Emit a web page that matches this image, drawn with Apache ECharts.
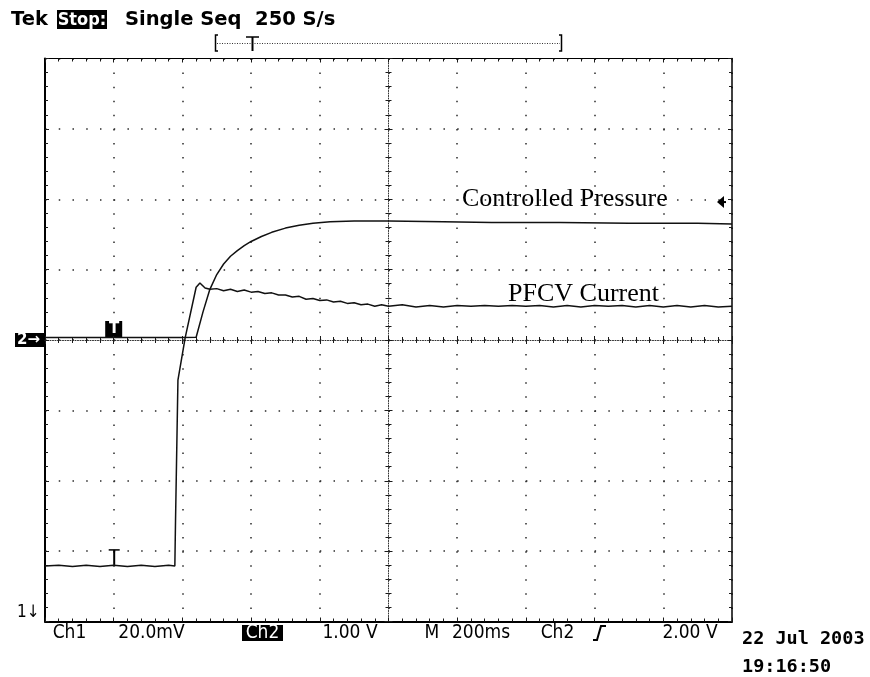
<!DOCTYPE html>
<html>
<head>
<meta charset="utf-8">
<script src="https://cdn.jsdelivr.net/npm/echarts@6/dist/echarts.min.js"></script>
<style>
html, body { margin: 0; padding: 0; background: #fff; }
#main { width: 870px; height: 677px; }
</style>
</head>
<body>
<div id="main"></div>
<script>
// time in ms from left edge of screen (200 ms/div), values in screen divisions
var ch1Time = [0, 40, 80, 120, 160, 200, 240, 280, 320, 360, 378, 380, 387, 408, 440, 451, 466, 480,
    500, 520, 540, 560, 580, 600, 620, 640, 660, 680, 700, 720, 740, 760, 780, 800, 820, 840, 860, 880,
    900, 920, 940, 960, 980, 1000, 1040, 1080, 1120, 1160, 1200, 1240, 1280, 1320, 1360, 1400, 1440,
    1480, 1520, 1560, 1600, 1640, 1680, 1720, 1760, 1800, 1840, 1880, 1920, 1960, 2000];
var ch1Div = [-3.21, -3.20, -3.22, -3.20, -3.22, -3.20, -3.22, -3.20, -3.22, -3.20, -3.21, -2.56, -0.57, 0.03, 0.75, 0.81, 0.74, 0.72,
    0.73, 0.70, 0.72, 0.69, 0.71, 0.68, 0.69, 0.66, 0.67, 0.64, 0.64, 0.61, 0.62, 0.58, 0.59, 0.56, 0.57, 0.54, 0.55, 0.52,
    0.53, 0.50, 0.51, 0.48, 0.50, 0.48, 0.50, 0.47, 0.49, 0.47, 0.49, 0.48, 0.49, 0.48, 0.49, 0.48, 0.49,
    0.47, 0.49, 0.47, 0.49, 0.48, 0.49, 0.47, 0.49, 0.47, 0.49, 0.47, 0.49, 0.47, 0.48];

var ch2Time = [0, 100, 200, 300, 400, 440, 460, 480, 500, 520, 540, 560, 580, 600, 630, 660, 700, 740,
    780, 830, 900, 1000, 1160, 1300, 1500, 1700, 1900, 2000];
var ch2Div = [0.035, 0.035, 0.035, 0.035, 0.035, 0.04, 0.40, 0.72, 0.93, 1.08, 1.19, 1.27, 1.34, 1.40, 1.47, 1.53, 1.59, 1.63,
    1.66, 1.68, 1.69, 1.69, 1.68, 1.67, 1.67, 1.66, 1.66, 1.65];

var trigTime = 200;     // trigger position, ms
var trigLevel = 1.96;   // trigger level, divisions of ch2

var header = ['Tek', 'Stop:', 'Single Seq  250 S/s'];
var footer = ['Ch1', '20.0mV', 'Ch2', '1.00 V', 'M', '200ms', 'Ch2', '2.00 V'];
var footerCenters = [69.5, 151.5, 262.5, 350, 432, 481, 557.5, 690];
var dateText = ['22 Jul 2003', '19:16:50'];
var labels = ['Controlled Pressure', 'PFCV Current'];

var chart = echarts.init(document.getElementById('main'));

function pairs(t, v) {
    var out = [];
    for (var i = 0; i < t.length; i++) {
        out.push([t[i], v[i]]);
    }
    return out;
}

var ink = '#1a1a1a';
var dotX = [1.5, 12.24];   // dots every 0.2 div along horizontal lines
var dotY = [1.5, 12.575];  // dots every 0.2 div along vertical lines

function frameAxis(pos, lineW, extra) {
    var a = {
        type: 'value',
        position: pos,
        axisLine: { show: true, onZero: false, lineStyle: { color: '#000', width: lineW } },
        axisTick: { show: true, inside: true, length: 4, lineStyle: { color: ink } },
        minorTick: { show: true, splitNumber: 5, length: 3, lineStyle: { color: ink } },
        axisLabel: { show: false },
        splitLine: { show: false }
    };
    return Object.assign(a, extra);
}

function centerAxis(pos, inside, extra) {
    var a = {
        type: 'value',
        position: pos,
        axisTick: { show: true, inside: inside, length: 4, lineStyle: { color: ink } },
        minorTick: { show: true, splitNumber: 5, length: 3, lineStyle: { color: ink } },
        axisLabel: { show: false },
        splitLine: { show: false }
    };
    return Object.assign(a, extra);
}

var xr = { min: 0, max: 2000, interval: 200 };
var yr = { min: -4, max: 4, interval: 1 };
var centerLine = { color: '#333', width: 1, type: [1, 1.5] };

chart.setOption({
    animation: false,
    backgroundColor: '#fff',
    grid: { left: 45, top: 58.5, width: 687, height: 563, show: false },
    xAxis: [
        frameAxis('bottom', 2, Object.assign({
            splitLine: { show: true, lineStyle: { color: '#2a2a2a', width: 1.5, type: dotY } }
        }, xr)),
        frameAxis('top', 1.2, xr),
        centerAxis('bottom', true, Object.assign({ axisLine: { show: true, onZero: true, onZeroAxisIndex: 0, lineStyle: centerLine } }, xr)),
        centerAxis('bottom', false, Object.assign({ axisLine: { show: false, onZero: true, onZeroAxisIndex: 0 } }, xr)),
        { type: 'value', min: -1000, max: 1000, show: false }
    ],
    yAxis: [
        frameAxis('left', 2, Object.assign({
            splitLine: { show: true, lineStyle: { color: '#2a2a2a', width: 1.5, type: dotX } }
        }, yr)),
        frameAxis('right', 1.5, yr),
        centerAxis('left', true, Object.assign({ axisLine: { show: true, onZero: true, onZeroAxisIndex: 4, lineStyle: centerLine } }, yr)),
        centerAxis('left', false, Object.assign({ axisLine: { show: false, onZero: true, onZeroAxisIndex: 4 } }, yr))
    ],
    series: [
        {
            name: 'PFCV Current',
            type: 'line',
            xAxisIndex: 0, yAxisIndex: 0,
            showSymbol: false,
            lineStyle: { color: '#111', width: 1.5 },
            data: pairs(ch1Time, ch1Div),
            z: 5
        },
        {
            name: 'Controlled Pressure',
            type: 'line',
            xAxisIndex: 0, yAxisIndex: 0,
            showSymbol: false,
            lineStyle: { color: '#111', width: 1.5 },
            data: pairs(ch2Time, ch2Div),
            z: 5
        }
    ]
});

function px(t, v) {
    return chart.convertToPixel({ xAxisIndex: 0, yAxisIndex: 0 }, [t, v]);
}

var g0 = px(0, 0);
var gTrig = px(trigTime, 0);
var gCh1 = px(trigTime, ch1Div[0]);
var gLev = px(2000, trigLevel);
var bottomY = px(0, -4)[1];

var hdrFont = 'bold 19.5px "DejaVu Sans"';
var stopFont = 'bold 18px "DejaVu Sans Condensed", "DejaVu Sans"';
var footFont = '19px "DejaVu Sans Condensed", "DejaVu Sans"';
var monoFont = 'bold 18.5px "DejaVu Sans Mono"';
var serif = '26px "Liberation Serif", "DejaVu Serif"';

var graphics = [
    // header
    { type: 'text', style: { text: header[0], x: 11, y: 20, font: hdrFont, fill: '#000', verticalAlign: 'middle' } },
    { type: 'rect', shape: { x: 57, y: 10, width: 50, height: 19 }, style: { fill: '#000' } },
    { type: 'text', style: { text: header[1], x: 82, y: 20, font: stopFont, fill: '#fff', align: 'center', verticalAlign: 'middle' } },
    { type: 'text', style: { text: header[2], x: 125, y: 20, font: hdrFont, fill: '#000', verticalAlign: 'middle' } },
    // record bracket
    { type: 'polyline', shape: { points: [[218, 35], [215.5, 35], [215.5, 51], [218, 51]] }, style: { stroke: '#000', lineWidth: 1.5, fill: null } },
    { type: 'polyline', shape: { points: [[559, 35], [561.5, 35], [561.5, 51], [559, 51]] }, style: { stroke: '#000', lineWidth: 1.5, fill: null } },
    { type: 'line', shape: { x1: 217, y1: 43.5, x2: 560, y2: 43.5 }, style: { stroke: '#333', lineWidth: 1, lineDash: [1, 1.5] } },
    { type: 'line', shape: { x1: 246, y1: 37, x2: 259, y2: 37 }, style: { stroke: '#000', lineWidth: 1.5 } },
    { type: 'line', shape: { x1: 252.5, y1: 37, x2: 252.5, y2: 51 }, style: { stroke: '#000', lineWidth: 2 } },
    // ch2 ground marker
    { type: 'rect', shape: { x: 15, y: g0[1] - 7, width: 29, height: 14 }, style: { fill: '#000' } },
    { type: 'text', style: { text: '2\u2192', x: 17, y: g0[1], font: 'bold 15px "DejaVu Sans"', fill: '#fff', verticalAlign: 'middle' } },
    // ch1 ground marker (off screen below)
    { type: 'text', style: { text: '1\u2193', x: 17, y: bottomY - 9, font: '17px "DejaVu Sans Condensed"', fill: '#000', verticalAlign: 'middle' } },
    // trigger position marker on ch2
    { type: 'rect', shape: { x: gTrig[0] - 8.5, y: g0[1] - 19, width: 17, height: 17 }, style: { fill: '#000' } },
    { type: 'text', style: { text: 'T', x: gTrig[0] + 0.5, y: g0[1] - 10.5, font: 'bold 15px "DejaVu Sans"', fill: '#fff', align: 'center', verticalAlign: 'middle' } },
    // trigger marker on ch1 (I-beam)
    { type: 'line', shape: { x1: gCh1[0] - 5, y1: gCh1[1] - 16, x2: gCh1[0] + 6, y2: gCh1[1] - 16 }, style: { stroke: '#000', lineWidth: 1.5 } },
    { type: 'line', shape: { x1: gCh1[0] + 0.5, y1: gCh1[1] - 16, x2: gCh1[0] + 0.5, y2: gCh1[1] - 1 }, style: { stroke: '#000', lineWidth: 2 } },
    // trigger level arrow
    { type: 'polygon', shape: { points: [[gLev[0] - 15, gLev[1]], [gLev[0] - 8, gLev[1] - 6], [gLev[0] - 8, gLev[1] + 6]] }, style: { fill: '#000' } },
    { type: 'line', shape: { x1: gLev[0] - 9, y1: gLev[1], x2: gLev[0] - 6, y2: gLev[1] }, style: { stroke: '#000', lineWidth: 2 } },
    // trace labels
    { type: 'text', style: { text: labels[0], x: 462, y: 199, font: serif, fill: '#000', verticalAlign: 'middle' } },
    { type: 'text', style: { text: labels[1], x: 508, y: 294, font: serif, fill: '#000', verticalAlign: 'middle' } },
    // footer
    { type: 'rect', shape: { x: 242, y: 625, width: 41, height: 16 }, style: { fill: '#000' } },
    { type: 'polyline', shape: { points: [[593, 640], [597, 640], [601, 626], [606, 626]] }, style: { stroke: '#000', lineWidth: 2, fill: null } },
    { type: 'text', style: { text: dateText[0], x: 742, y: 639, font: monoFont, fill: '#000', verticalAlign: 'middle' } },
    { type: 'text', style: { text: dateText[1], x: 742, y: 667, font: monoFont, fill: '#000', verticalAlign: 'middle' } }
];

for (var i = 0; i < footer.length; i++) {
    graphics.push({
        type: 'text',
        style: {
            text: footer[i], x: footerCenters[i], y: 633, font: footFont,
            fill: i === 2 ? '#fff' : '#000', align: 'center', verticalAlign: 'middle'
        }
    });
}

chart.setOption({ graphic: graphics });

window.onresize = function () {
    chart.resize();
};
</script>
</body>
</html>
